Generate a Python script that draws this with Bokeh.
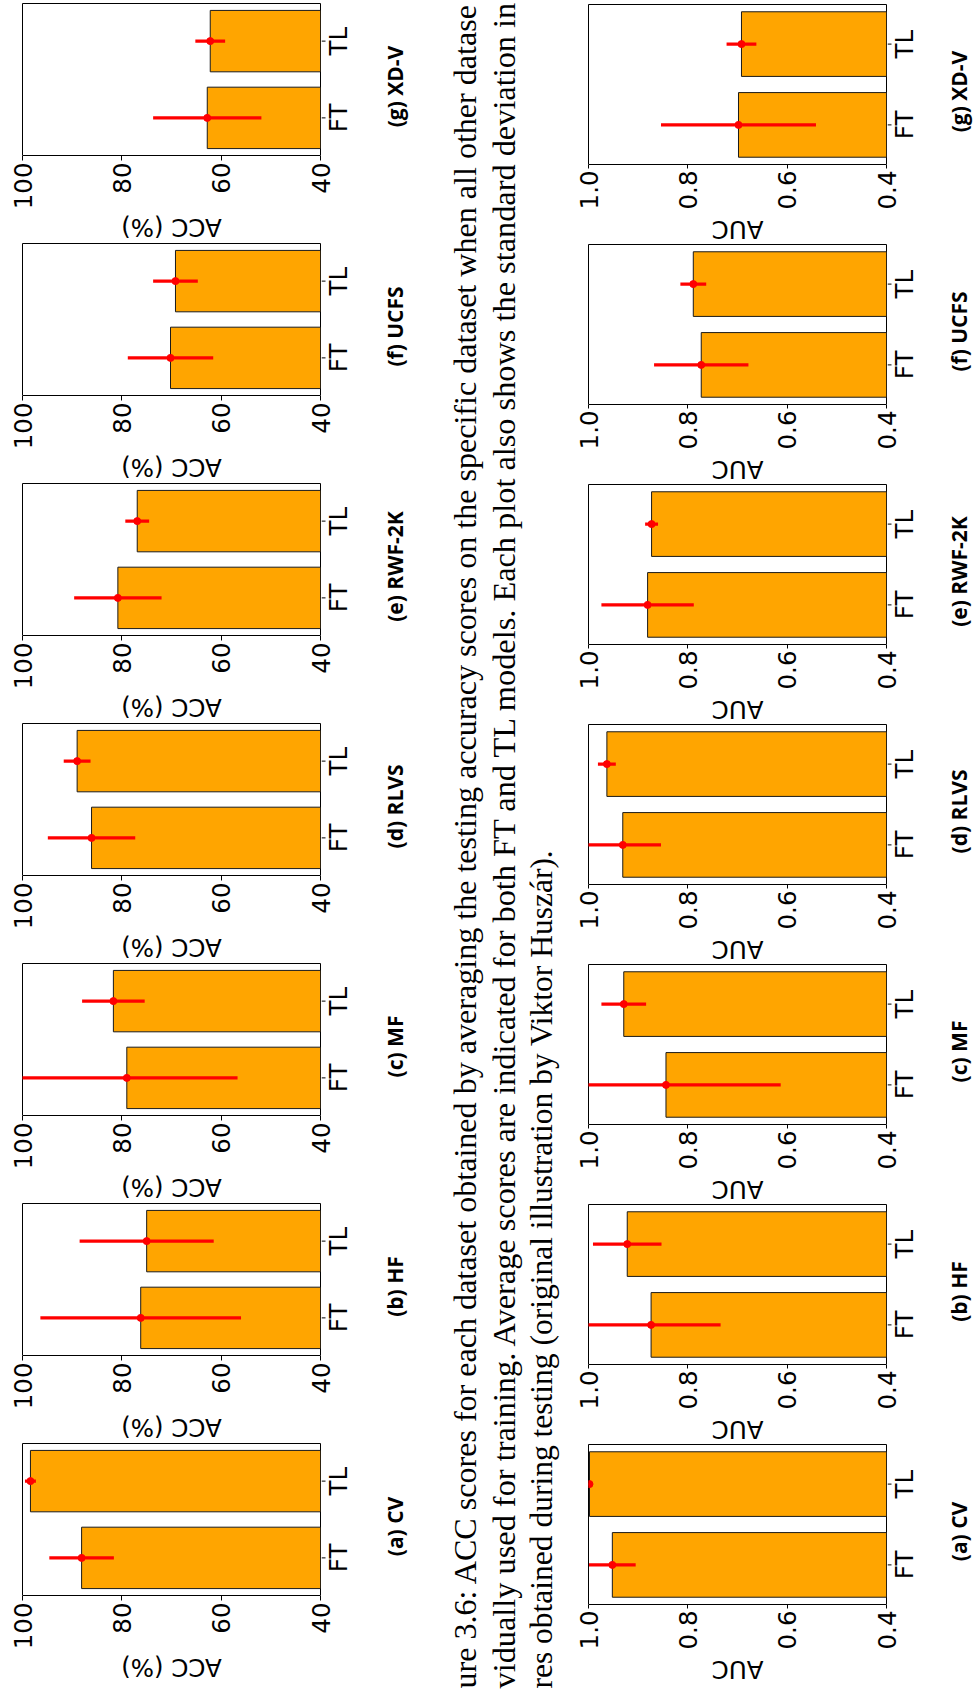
import math
from bokeh.plotting import figure
from bokeh.models import ColumnDataSource, Range1d, FixedTicker, PrintfTickFormatter, Spacer
from bokeh.layouts import row, column
from bokeh.embed import file_html
from bokeh.resources import INLINE
from bokeh.core.properties import value

# ---------------- data ----------------
panels = ["(a) CV", "(b) HF", "(c) MF", "(d) RLVS", "(e) RWF-2K", "(f) UCFS", "(g) XD-V"]
models = ["FT", "TL"]

acc_ft_mean = [88.1, 76.2, 79.0, 86.1, 80.8, 70.2, 62.8]
acc_ft_std = [6.5, 20.2, 22.3, 8.8, 8.8, 8.6, 10.9]
acc_tl_mean = [98.4, 75.0, 81.7, 89.0, 76.9, 69.2, 62.2]
acc_tl_std = [1.1, 13.5, 6.3, 2.7, 2.4, 4.5, 3.0]

auc_ft_mean = [0.952, 0.874, 0.844, 0.931, 0.881, 0.773, 0.698]
auc_ft_std = [0.047, 0.140, 0.231, 0.077, 0.093, 0.095, 0.156]
auc_tl_mean = [0.998, 0.922, 0.929, 0.963, 0.873, 0.789, 0.692]
auc_tl_std = [0.003, 0.069, 0.045, 0.018, 0.013, 0.026, 0.030]

acc_ticks = [40, 60, 80, 100]
auc_ticks = [0.4, 0.6, 0.8, 1.0]

caption_lines = [
    "ure 3.6:  ACC scores for each dataset obtained by averaging the testing accuracy scores on the specific dataset when all other datase",
    "vidually used for training.  Average scores are indicated for both FT and TL models.  Each plot also shows the standard deviation in",
    "res obtained during testing (original illustration by Viktor Huszár).",
]

ORANGE = "#FFA500"
PI = math.pi
FONT = "DejaVu Sans"
FS = "24.5px"


def blank(fig):
    fig.outline_line_color = None
    fig.xgrid.grid_line_color = None
    fig.ygrid.grid_line_color = None
    fig.background_fill_color = "white"
    fig.border_fill_color = "white"


def make_panel(label, ft_m, ft_s, tl_m, tl_s, ticks, fmt, axis_title,
               col_w, frame_h, axis_h, title_h, title_shift, cap_x):
    lo, hi = ticks[0], ticks[-1]
    ys = list(range(len(models)))
    means = [ft_m, tl_m]
    stds = [ft_s, tl_s]
    src = ColumnDataSource(dict(
        y=ys, m=means, base=[lo] * len(ys),
        elo=[m - s for m, s in zip(means, stds)],
        ehi=[m + s for m, s in zip(means, stds)],
    ))
    yr = Range1d(-0.49, 1.49)
    xr = Range1d(hi, lo)
    panel_w = 22 + 298 + 1
    side_w = col_w - panel_w
    panel_h = 1 + frame_h + 1

    # ---- main panel (bars + error bars) ----
    p = figure(width=panel_w, height=panel_h, x_range=xr, y_range=yr,
               x_axis_location=None, y_axis_location=None,
               output_backend="svg", toolbar_location=None,
               min_border_left=22, min_border_right=1,
               min_border_top=1, min_border_bottom=1)
    p.hbar(y="y", left="base", right="m", height=0.8, source=src,
           fill_color=ORANGE, line_color="#1a1a1a", line_width=1)
    p.segment(x0="elo", x1="ehi", y0="y", y1="y", source=src,
              line_color="#FF0000", line_width=3.3)
    p.scatter(x="m", y="y", source=src, size=7, color="#FF0000")
    p.xgrid.grid_line_color = None
    p.ygrid.grid_line_color = None
    p.outline_line_color = "black"
    p.outline_line_width = 1
    p.background_fill_color = "white"
    p.border_fill_color = "white"

    # ---- side strip: category ticks/labels + sub-caption (shares the y scale) ----
    s = figure(width=side_w, height=panel_h, x_range=Range1d(0, side_w), y_range=yr,
               x_axis_type=None, y_axis_type=None,
               output_backend="svg", toolbar_location=None,
               min_border_left=0, min_border_right=0,
               min_border_top=1, min_border_bottom=1)
    blank(s)
    s.segment(x0=[0] * len(ys), x1=[4] * len(ys), y0=ys, y1=ys,
              line_color="black", line_width=1)
    s.text(x=[17] * len(models), y=ys, text=models, angle=PI / 2,
           text_align="center", text_baseline="middle",
           text_font=value(FONT), text_font_size=FS, text_color="black")
    px_per_unit = frame_h / (yr.end - yr.start)
    cap_y = (yr.start + yr.end) / 2 - 7 / px_per_unit
    s.text(x=[cap_x], y=[cap_y], text=[label], angle=PI / 2,
           text_align="center", text_baseline="middle",
           text_font=value("Open Sans"), text_font_size="21px",
           text_font_style="bold", text_color="black")

    # ---- value axis strip (shares the x scale) ----
    a = figure(width=col_w, height=axis_h, x_range=xr, y_range=Range1d(0, 1),
               y_axis_location=None, output_backend="svg", toolbar_location=None,
               min_border_left=22, min_border_right=col_w - 22 - 298,
               min_border_top=0, min_border_bottom=axis_h - 1)
    blank(a)
    xa = a.xaxis[0]
    xa.ticker = FixedTicker(ticks=ticks)
    xa.formatter = PrintfTickFormatter(format=fmt)
    xa.major_label_text_font = FONT
    xa.major_label_text_font_size = FS
    xa.major_label_text_color = "black"
    xa.major_label_orientation = PI / 2
    xa.major_label_standoff = 2
    xa.major_tick_out = 3
    xa.major_tick_in = 2
    xa.minor_tick_out = 0
    xa.minor_tick_in = 0
    xa.axis_line_color = None
    xa.major_tick_line_color = "black"

    # ---- title strip below the tick labels (shares the x scale) ----
    t = figure(width=col_w, height=title_h, x_range=xr, y_range=Range1d(0, title_h),
               x_axis_type=None, y_axis_type=None,
               output_backend="svg", toolbar_location=None,
               min_border_left=22, min_border_right=col_w - 22 - 298,
               min_border_top=0, min_border_bottom=0)
    blank(t)
    t.text(x=[(lo + hi) / 2], y=[title_h / 2 - title_shift], text=[axis_title], angle=PI,
           text_align="center", text_baseline="middle",
           text_font=value(FONT), text_font_size=FS, text_color="black")

    return column(row(p, s), a, t)


acc_blocks = [Spacer(width=409, height=2)]
auc_blocks = [Spacer(width=407, height=3)]
for i in range(len(panels) - 1, -1, -1):
    lab = panels[i]
    acc_blocks.append(make_panel(lab, acc_ft_mean[i], acc_ft_std[i], acc_tl_mean[i], acc_tl_std[i],
                                 acc_ticks, "%d", "ACC (%)",
                                 409, 152, 56, 30, 0, 73))
    auc_blocks.append(make_panel(lab, auc_ft_mean[i], auc_ft_std[i], auc_tl_mean[i], auc_tl_std[i],
                                 auc_ticks, "%.1f", "AUC",
                                 407, 160, 47, 31, 1, 71))

# ---- caption strip ----
cap = figure(width=157, height=1690, x_range=Range1d(0, 157), y_range=Range1d(0, 1690),
             x_axis_type=None, y_axis_type=None,
             output_backend="svg", toolbar_location=None, min_border=0)
blank(cap)
cap_src = ColumnDataSource(dict(x=[55, 94, 132], y=[2, 2, 2], t=caption_lines,
                                fs=["32.1px", "32.35px", "31.5px"]))
cap.text(x="x", y="y", text="t", source=cap_src, angle=PI / 2,
         text_font=value("Liberation Serif"), text_font_size="fs",
         text_baseline="alphabetic", text_align="left", text_color="black")

layout = row(column(*acc_blocks), cap, column(*auc_blocks))

open("out.html", "w").write(file_html(layout, INLINE))
